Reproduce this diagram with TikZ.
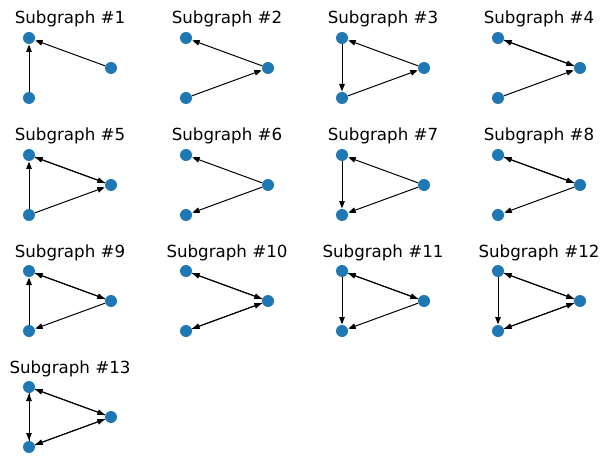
\documentclass[tikz,border=0pt]{standalone}
\usepackage{fontspec}
\setmainfont{DejaVu Sans}
\usetikzlibrary{arrows.meta}
\tikzset{
  vtx/.style={circle,fill=nodeblue,draw=none,minimum size=9pt,inner sep=0pt},
  arr/.style={-{Triangle[length=5.5pt,width=4.2pt]},line width=0.75pt,black,shorten >=0.3pt},
  ttl/.style={anchor=base,font=\fontsize{12.5pt}{14pt}\selectfont,inner sep=0pt}
}
\definecolor{nodeblue}{HTML}{1F77B4}
\newcommand{\mytriad}[4]{%
  \node[vtx] (#1T) at (#2,#3) {};
  \node[vtx] (#1R) at (#2+82,#3+30) {};
  \node[vtx] (#1B) at (#2,#3+60) {};
  \node[ttl] (#1L) at (#2+41,#3-14) {#4};
}
\begin{document}
\begin{tikzpicture}[x=0.75pt,y=-0.75pt]
\useasboundingbox (0,0) rectangle (609,463);
% row 1
\mytriad{a}{29}{38}{Subgraph \#1}
\mytriad{b}{186}{38}{Subgraph \#2}
\mytriad{c}{342}{38}{Subgraph \#3}
\mytriad{d}{498}{38}{Subgraph \#4}
% row 2
\mytriad{e}{29}{155}{Subgraph \#5}
\mytriad{f}{186}{155}{Subgraph \#6}
\mytriad{g}{342}{155}{Subgraph \#7}
\mytriad{h}{498}{155}{Subgraph \#8}
% row 3
\mytriad{i}{29}{271}{Subgraph \#9}
\mytriad{j}{186}{271}{Subgraph \#10}
\mytriad{k}{342}{271}{Subgraph \#11}
\mytriad{l}{498}{271}{Subgraph \#12}
% row 4
\mytriad{m}{29}{387}{Subgraph \#13}
% #1
\draw[arr] (aB) -- (aT); \draw[arr] (aR) -- (aT);
% #2
\draw[arr] (bR) -- (bT); \draw[arr] (bB) -- (bR);
% #3
\draw[arr] (cT) -- (cB); \draw[arr] (cB) -- (cR); \draw[arr] (cR) -- (cT);
% #4
\draw[arr] (dT) -- (dR); \draw[arr] (dR) -- (dT); \draw[arr] (dB) -- (dR);
% #5
\draw[arr] (eT) -- (eR); \draw[arr] (eR) -- (eT); \draw[arr] (eB) -- (eR); \draw[arr] (eB) -- (eT);
% #6
\draw[arr] (fR) -- (fT); \draw[arr] (fR) -- (fB);
% #7
\draw[arr] (gT) -- (gB); \draw[arr] (gR) -- (gT); \draw[arr] (gR) -- (gB);
% #8
\draw[arr] (hT) -- (hR); \draw[arr] (hR) -- (hT); \draw[arr] (hR) -- (hB);
% #9
\draw[arr] (iT) -- (iR); \draw[arr] (iR) -- (iT); \draw[arr] (iR) -- (iB); \draw[arr] (iB) -- (iT);
% #10
\draw[arr] (jT) -- (jR); \draw[arr] (jR) -- (jT); \draw[arr] (jB) -- (jR); \draw[arr] (jR) -- (jB);
% #11
\draw[arr] (kT) -- (kR); \draw[arr] (kR) -- (kT); \draw[arr] (kR) -- (kB); \draw[arr] (kT) -- (kB);
% #12
\draw[arr] (lT) -- (lR); \draw[arr] (lR) -- (lT); \draw[arr] (lB) -- (lR); \draw[arr] (lR) -- (lB); \draw[arr] (lT) -- (lB);
% #13
\draw[arr] (mT) -- (mR); \draw[arr] (mR) -- (mT); \draw[arr] (mB) -- (mR); \draw[arr] (mR) -- (mB); \draw[arr] (mT) -- (mB); \draw[arr] (mB) -- (mT);
\end{tikzpicture}
\end{document}
